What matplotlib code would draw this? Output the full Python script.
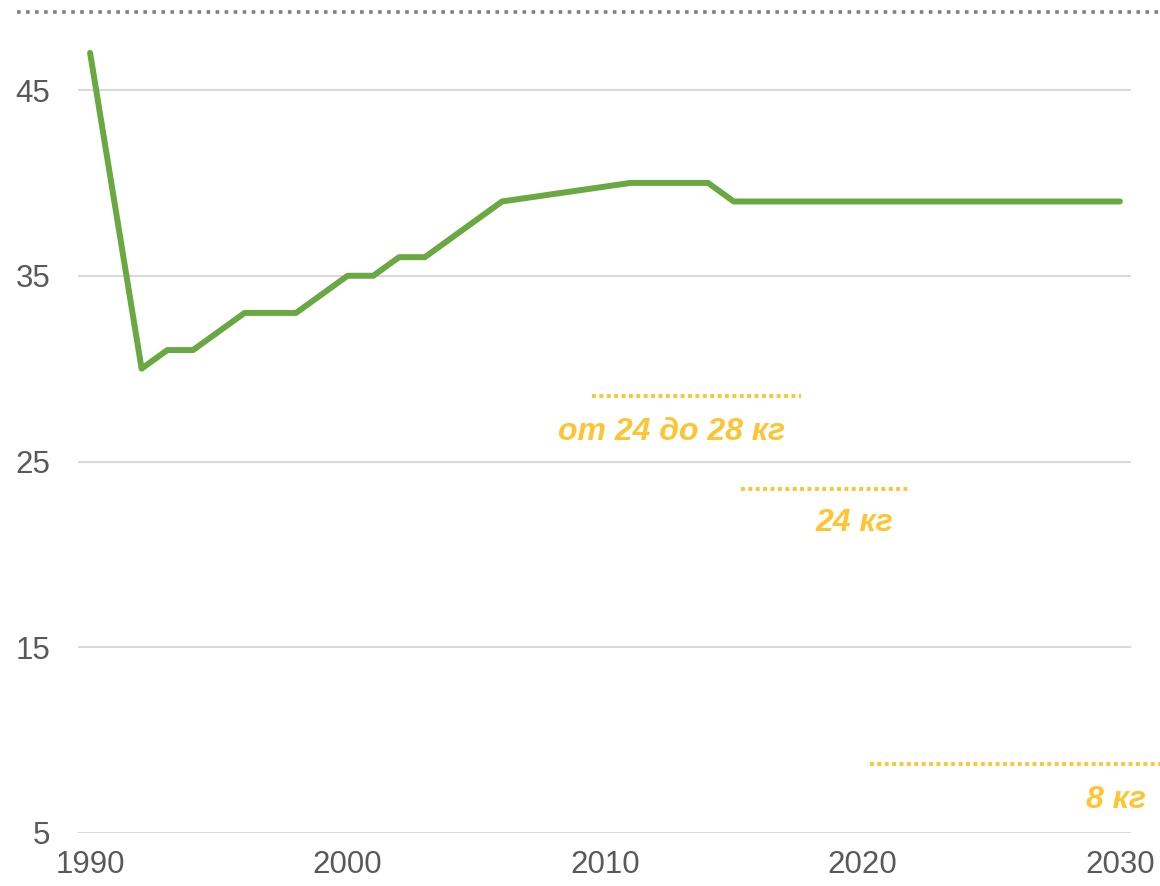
import matplotlib
matplotlib.use('Agg')
import matplotlib.pyplot as plt
from matplotlib.lines import Line2D

plt.rcParams['font.family'] = ['Liberation Sans', 'DejaVu Sans']

# ---- данные ----
years = [1990, 1991, 1992, 1993, 1994, 1995, 1996, 1997, 1998, 1999, 2000,
         2001, 2002, 2003, 2004, 2005, 2006, 2011, 2012, 2013, 2014, 2015, 2030]
values = [47, 38.5, 30, 31, 31, 32, 33, 33, 33, 34, 35,
          35, 36, 36, 37, 38, 39, 40, 40, 40, 40, 39, 39]

target_labels = ['от 24 до 28 кг', '24 кг', '8 кг']
target_values = [28.5, 23.5, 8.7]
target_x0 = [2009.5, 2015.3, 2020.3]
target_x1 = [2017.6, 2021.9, 2031.6]

yticks = [5, 15, 25, 35, 45]
xticks = [1990, 2000, 2010, 2020, 2030]

GREEN = '#6aa842'
YELLOW = '#ffc433'
GRID = '#d9d9d9'
TICK = '#595959'

W, H = 1160, 886
fig = plt.figure(figsize=(W / 100, H / 100), dpi=100)
ax = fig.add_axes([78 / W, (H - 833) / H, (1131 - 78) / W, (833 - 12) / H])
ax.set_xlim(1989.53, 2030.43)
ax.set_ylim(5, 49.2)

for s in ax.spines.values():
    s.set_visible(False)
ax.set_yticks(yticks)
ax.set_xticks(xticks)
ax.tick_params(length=0, labelsize=22.5, colors=TICK)
ax.tick_params(axis='y', pad=20)
ax.tick_params(axis='x', pad=12)
ax.grid(axis='y', color=GRID, lw=1.5)
ax.set_axisbelow(True)

ax.plot(years, values, color=GREEN, lw=4.3, solid_capstyle='round',
        solid_joinstyle='round', zorder=3)

# ---- целевые уровни ----
lbl_pos = [(2012.6, 26.6, 'center'), (2019.7, 21.7, 'center'), (2031.0, 6.8, 'right')]
for lab, v, a, b, (tx, ty, ha) in zip(target_labels, target_values,
                                      target_x0, target_x1, lbl_pos):
    ax.plot([a, b], [v, v], color=YELLOW, lw=2.8, ls=(0, (1, 0.9)),
            clip_on=False, zorder=2)
    ax.text(tx, ty, lab, color=YELLOW, fontsize=23, fontweight='bold',
            style='italic', ha=ha, va='center', clip_on=False)

# ---- верхняя пунктирная линия ----
fig.add_artist(Line2D([17 / W, 1.0], [(H - 12) / H] * 2, color='#808080',
                      lw=2.6, ls=(0, (1, 1.5)), transform=fig.transFigure))

plt.savefig('out.png', dpi=100, facecolor='white')
plt.close()
